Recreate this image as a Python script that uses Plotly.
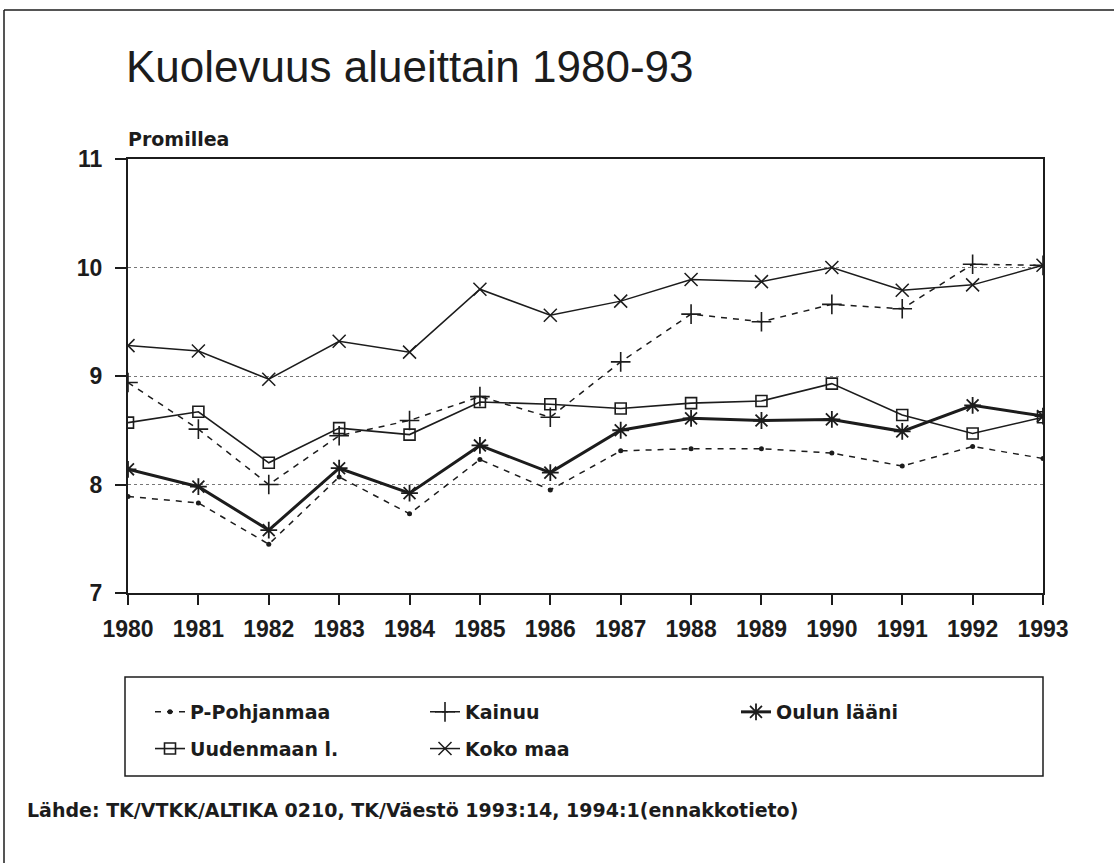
import plotly.graph_objects as go

years = [1980, 1981, 1982, 1983, 1984, 1985, 1986, 1987, 1988, 1989, 1990, 1991, 1992, 1993]
year_labels = [str(y) for y in years]

p_pohjanmaa = [7.89, 7.83, 7.45, 8.07, 7.73, 8.23, 7.95, 8.31, 8.33, 8.33, 8.29, 8.17, 8.35, 8.24]
kainuu = [8.94, 8.51, 8.00, 8.45, 8.59, 8.81, 8.62, 9.13, 9.57, 9.50, 9.66, 9.62, 10.03, 10.02]
oulun_laani = [8.14, 7.98, 7.58, 8.15, 7.92, 8.36, 8.11, 8.50, 8.61, 8.59, 8.60, 8.49, 8.73, 8.63]
uudenmaan = [8.57, 8.67, 8.20, 8.52, 8.46, 8.76, 8.74, 8.70, 8.75, 8.77, 8.93, 8.64, 8.47, 8.62]
koko_maa = [9.28, 9.23, 8.97, 9.32, 9.22, 9.80, 9.56, 9.69, 9.89, 9.87, 10.00, 9.79, 9.84, 10.02]

y_ticks = [7, 8, 9, 10, 11]

INK = "#1c1c1c"
FONT = "Liberation Sans, Arial, sans-serif"
WIDE = "DejaVu Sans, Verdana, sans-serif"

# plot area in pixels
L, R, T, B = 128, 1043, 159, 593
W, H = R - L, B - T


def px(x):
    return (x - L) / W


def py(y):
    return (B - y) / H


fig = go.Figure()

fig.add_trace(go.Scatter(
    x=years, y=p_pohjanmaa, name="P-Pohjanmaa", mode="lines+markers",
    line=dict(color=INK, width=1.5, dash="6px,6px"),
    marker=dict(symbol="circle", size=5, color=INK),
    legend="legend", legendgroup="a"))
fig.add_trace(go.Scatter(
    x=years, y=uudenmaan, name="Uudenmaan l.", mode="lines+markers",
    line=dict(color=INK, width=1.6),
    marker=dict(symbol="square-open", size=11, color=INK, line=dict(width=1.6, color=INK)),
    legend="legend", legendgroup="b"))
fig.add_trace(go.Scatter(
    x=years, y=kainuu, name="Kainuu", mode="lines+markers",
    line=dict(color=INK, width=1.5, dash="6px,6px"),
    marker=dict(symbol="cross-thin", size=14, color=INK, line=dict(width=1.6, color=INK)),
    legend="legend2", legendgroup="c"))
fig.add_trace(go.Scatter(
    x=years, y=koko_maa, name="Koko maa", mode="lines+markers",
    line=dict(color=INK, width=1.5),
    marker=dict(symbol="x-thin", size=13, color=INK, line=dict(width=1.5, color=INK)),
    legend="legend2", legendgroup="d"))
fig.add_trace(go.Scatter(
    x=years, y=oulun_laani, name="Oulun lääni", mode="lines+markers",
    line=dict(color=INK, width=3),
    marker=dict(symbol="asterisk-open", size=14, color=INK, line=dict(width=1.8, color=INK)),
    legend="legend3", legendgroup="e"))

leg_common = dict(
    orientation="v", xanchor="left", yanchor="top",
    bgcolor="rgba(0,0,0,0)", borderwidth=0,
    font=dict(family=WIDE, size=19, color=INK, weight="bold"),
    tracegroupgap=9, itemsizing="trace",
)

fig.update_layout(
    width=1114, height=863,
    margin=dict(l=L, r=1114 - R, t=T, b=863 - B),
    paper_bgcolor="white", plot_bgcolor="white",
    showlegend=True,
    legend=dict(x=px(150), y=py(693), **leg_common),
    legend2=dict(x=px(425), y=py(693), **leg_common),
    legend3=dict(x=px(736), y=py(693), **leg_common),
    xaxis=dict(
        range=[1980, 1993], tickmode="array", tickvals=years, ticktext=year_labels,
        showline=True, linecolor=INK, linewidth=2, mirror=True,
        ticks="outside", ticklen=10, tickwidth=1.5, tickcolor=INK,
        showgrid=False, zeroline=False, ticklabelstandoff=4,
        tickfont=dict(family=FONT, size=23, color=INK, weight="bold"),
    ),
    yaxis=dict(
        range=[7, 11], tickmode="array", tickvals=y_ticks, ticktext=[str(v) for v in y_ticks],
        showline=True, linecolor=INK, linewidth=2, mirror=True,
        ticks="outside", ticklen=11, tickwidth=1.5, tickcolor=INK,
        showgrid=True, gridcolor="#777777", gridwidth=1, griddash="dot",
        zeroline=False, ticklabelstandoff=8,
        tickfont=dict(family=FONT, size=23, color=INK, weight="bold"),
    ),
    shapes=[
        # legend box
        dict(type="rect", xref="paper", yref="paper",
             x0=px(125), x1=px(1043), y0=py(776), y1=py(677),
             line=dict(color=INK, width=1.5), fillcolor="rgba(0,0,0,0)", layer="below"),
        # page frame (left and top edges)
        dict(type="line", xref="paper", yref="paper",
             x0=px(4), x1=px(4), y0=py(863), y1=py(10), line=dict(color=INK, width=1.5)),
        dict(type="line", xref="paper", yref="paper",
             x0=px(4), x1=px(1114), y0=py(10), y1=py(10), line=dict(color=INK, width=1.5)),
    ],
    annotations=[
        dict(text="Kuolevuus alueittain 1980-93", xref="paper", yref="paper",
             x=px(124), y=py(66), xanchor="left", yanchor="middle", showarrow=False,
             font=dict(family=FONT, size=44, color=INK)),
        dict(text="Promillea", xref="paper", yref="paper",
             x=px(126), y=py(139), xanchor="left", yanchor="middle", showarrow=False,
             font=dict(family=WIDE, size=19, color=INK, weight="bold")),
        dict(text="Lähde: TK/VTKK/ALTIKA 0210, TK/Väestö 1993:14, 1994:1(ennakkotieto)",
             xref="paper", yref="paper",
             x=px(25), y=py(810), xanchor="left", yanchor="middle", showarrow=False,
             font=dict(family=WIDE, size=19, color=INK, weight="bold")),
    ],
)

fig.write_html("out.html", config={"displayModeBar": False},
               post_script="document.body.style.margin='0px';")
